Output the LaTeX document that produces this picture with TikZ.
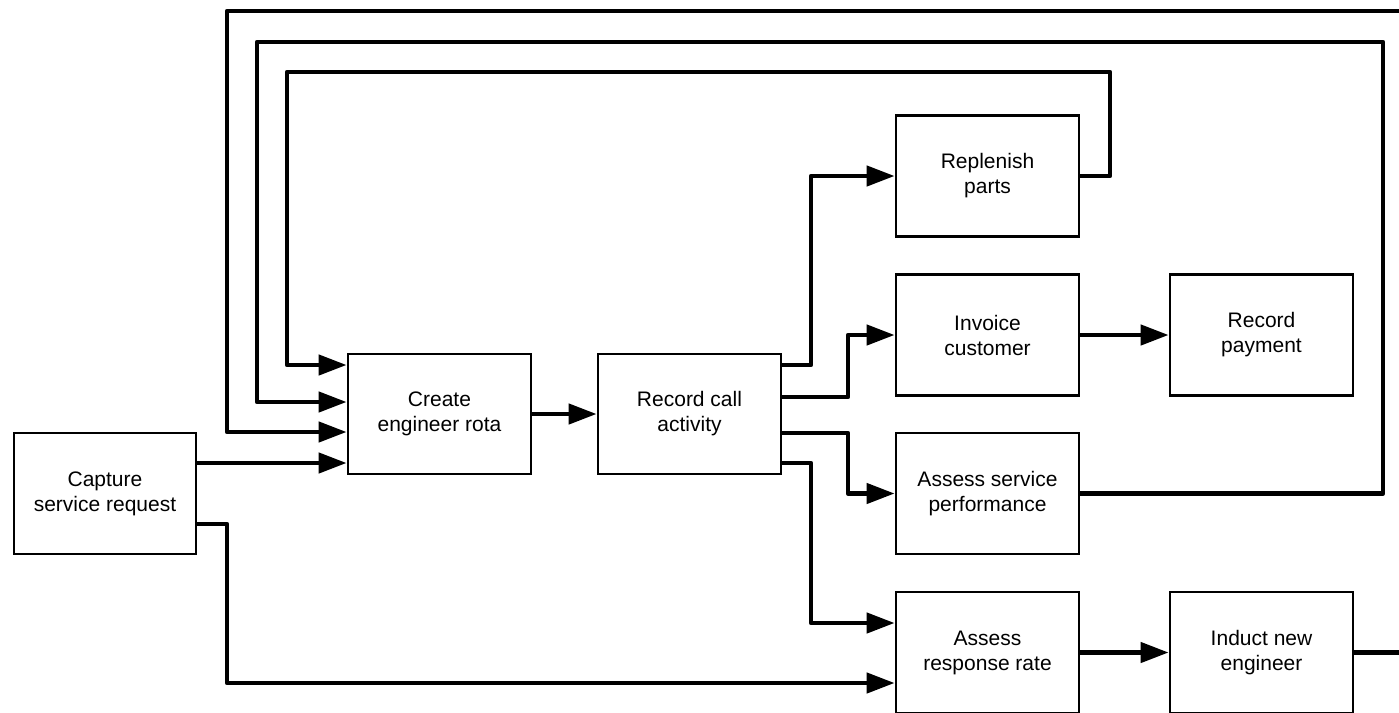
\documentclass[tikz,border=0pt]{standalone}
\usepackage{fontspec}
\setmainfont{Liberation Sans}
\usetikzlibrary{arrows.meta}
\begin{document}
\begin{tikzpicture}[x=1pt, y=-1pt,
	  box/.style={draw, rectangle, line width=2.8pt, minimum width=183pt, minimum height=121pt, align=center, font=\fontsize{21}{25}\selectfont},
	  flow/.style={line width=4.5pt, line join=round, -{Triangle[length=28pt, width=20pt]}},
	  loop/.style={line width=4.5pt, line join=round}]
	  \useasboundingbox (0,0) rectangle (1399,712);
	  \clip (0,0) rectangle (1399,712);
	  \node[box, minimum width=182pt] (capture) at (105,493.5) {Capture\\service request};
	  \node[box, minimum height=120pt] (rota) at (439.5,414) {Create\\engineer rota};
	  \node[box, minimum height=120pt] (callrec) at (689.5,414) {Record call\\activity};
	  \node[box] (replen) at (987.5,176) {Replenish\\parts};
	  \node[box] (invoice) at (987.5,335) {Invoice\\customer};
	  \node[box] (payment) at (1261.5,335) {Record\\payment};
	  \node[box] (servperf) at (987.5,493.5) {Assess service\\performance};
	  \node[box] (resp) at (987.5,652.5) {Assess\\response rate};
	  \node[box] (induct) at (1261.5,652.5) {Induct new\\engineer};
	  % inputs to the rota
	  \draw[flow] (capture.east |- 0,463) -- (rota.west |- 0,463);
	  \draw[flow] (induct.east) -- (1413,652.5) -- (1413,11) -- (227,11) -- (227,432) -- (rota.west |- 0,432);
	  \draw[flow] (servperf.east) -- (1383,493.5) -- (1383,42) -- (257,42) -- (257,402) -- (rota.west |- 0,402);
	  \draw[flow] (replen.east) -- (1110,176) -- (1110,72) -- (287,72) -- (287,365) -- (rota.west |- 0,365);
	  \draw[flow] (capture.east |- 0,524) -- (227,524) -- (227,683) -- (resp.west |- 0,683);
	  \draw[flow] (rota) -- (callrec);
	  % outputs of the call record
	  \draw[flow] (callrec.east |- 0,365) -- (811,365) -- (811,176) -- (replen.west);
	  \draw[flow] (callrec.east |- 0,397) -- (848,397) -- (848,335) -- (invoice.west);
	  \draw[flow] (callrec.east |- 0,433) -- (848,433) -- (848,493.5) -- (servperf.west);
	  \draw[flow] (callrec.east |- 0,463) -- (811,463) -- (811,623) -- (resp.west |- 0,623);
	  \draw[flow] (invoice) -- (payment);
	  \draw[flow] (resp) -- (induct);
	\end{tikzpicture}
\end{document}
